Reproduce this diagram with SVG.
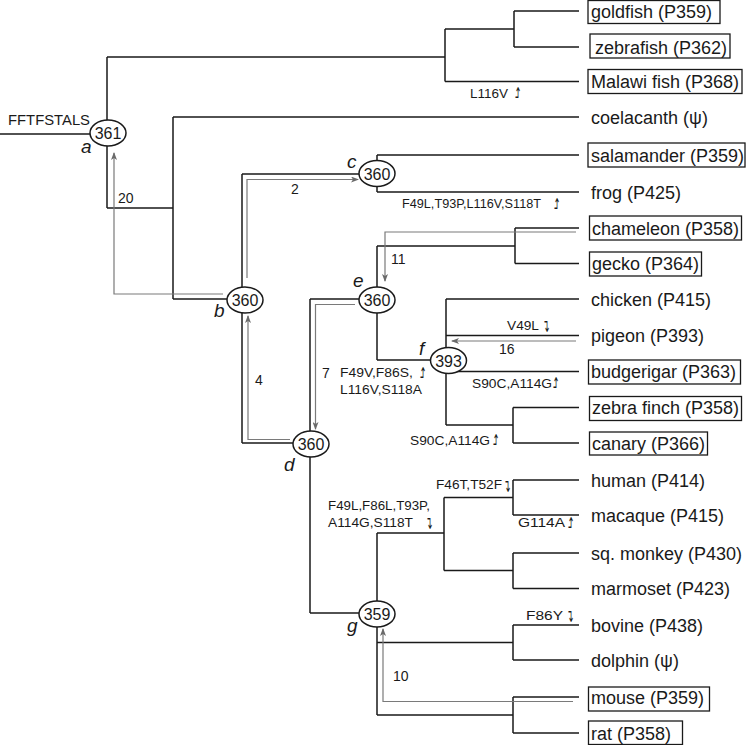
<svg xmlns="http://www.w3.org/2000/svg" width="750" height="745" viewBox="0 0 750 745">
<defs>
<style>
.br{fill:none;stroke:#1a1a1a;stroke-width:1.5}
.gr{fill:none;stroke:#7a7a7a;stroke-width:1.2}
.nd{fill:#fff;stroke:#1a1a1a;stroke-width:1.5}
.nt{font-family:"Liberation Sans",Arial,sans-serif;font-size:16px;fill:#1a1a1a;text-anchor:middle}
.lt{font-family:"Liberation Sans",Arial,sans-serif;font-size:19px;font-style:italic;fill:#1a1a1a}
.sp{font-family:"Liberation Sans",Arial,sans-serif;font-size:18px;fill:#1a1a1a}
.bx{fill:none;stroke:#1a1a1a;stroke-width:1.3}
.mu{font-family:"Liberation Sans",Arial,sans-serif;font-size:12.5px;fill:#1a1a1a}
.ar{font-family:"DejaVu Sans",sans-serif;font-size:18px;fill:#1a1a1a}
.cn{font-family:"Liberation Sans",Arial,sans-serif;font-size:14px;fill:#1a1a1a}
</style>
<marker id="ah" viewBox="0 0 8 6" refX="7" refY="3" markerWidth="8" markerHeight="6" markerUnits="userSpaceOnUse" orient="auto">
<path d="M0,0 L8,3 L0,6 L2,3 z" fill="#6a6a6a"/>
</marker>
</defs>
<rect width="750" height="745" fill="#fff"/>

<g id="connectors">
<path class="br" d="M0,134 H100 M107,57 V208 M107,57 H445 M445,29 V81.5 M445,29 H514 M514,11 V47 M514,11 H579 M514,47 H579 M445,81.5 H579"/>
<path class="br" d="M107,208 H173 M173,117 V299 M173,117 H579 M173,299 H235"/>
<path class="br" d="M242,174 V443 M242,174 H365 M242,443 H300"/>
<path class="br" d="M377,155 V192 M377,155 H579 M377,192 H579"/>
<path class="br" d="M310,299 V613 M310,299 H365 M310,613 H365"/>
<path class="br" d="M377,246 V360 M377,246 H515 M515,228 V263.5 M515,228 H579 M515,263.5 H579 M377,360 H440"/>
<path class="br" d="M446,299 V425 M446,299 H579 M446,335.5 H579 M446,371.5 H579 M446,425 H513 M513,407.5 V443 M513,407.5 H579 M513,443 H579"/>
<path class="br" d="M377,533 V715 M377,533 H444 M444,497.5 V570.5 M444,497.5 H513 M444,570.5 H513 M513,480 V515 M513,480 H579 M513,515 H579 M513,553 V588.5 M513,553 H579 M513,588.5 H579 M377,642.5 H513 M513,625 V660 M513,625 H579 M513,660 H579 M377,715 H513 M513,697 V733 M513,697 H579 M513,733 H579"/>
<path class="gr" marker-end="url(#ah)" d="M223,294 H114 V153"/>
<path class="gr" marker-end="url(#ah)" d="M247,278 V179.5 H358"/>
<path class="gr" marker-end="url(#ah)" d="M290,439.5 H248 V316"/>
<path class="gr" marker-end="url(#ah)" d="M355,304.5 H315.5 V429"/>
<path class="gr" marker-end="url(#ah)" d="M576,232 H385 V281"/>
<path class="gr" marker-end="url(#ah)" d="M576,341 H452"/>
<path class="gr" marker-end="url(#ah)" d="M573,701.5 H383 V629"/>
<text class="cn" x="118" y="203">20</text>
<text class="cn" x="291" y="194">2</text>
<text class="cn" x="255" y="385">4</text>
<text class="cn" x="322" y="378">7</text>
<text class="cn" x="391" y="264">11</text>
<text class="cn" x="499" y="354">16</text>
<text class="cn" x="393" y="681">10</text>
</g>

<g id="mutations">
<text class="mu" x="8" y="125" style="font-size:15px" textLength="82" lengthAdjust="spacingAndGlyphs">FFTFSTALS</text>
<text class="mu" x="470" y="98" textLength="38" lengthAdjust="spacingAndGlyphs">L116V</text>
<text class="mu" x="402" y="208" textLength="139" lengthAdjust="spacingAndGlyphs">F49L,T93P,L116V,S118T</text>
<text class="mu" x="507" y="329.5" textLength="32" lengthAdjust="spacingAndGlyphs">V49L</text>
<text class="mu" x="472" y="388" textLength="80" lengthAdjust="spacingAndGlyphs">S90C,A114G</text>
<text class="mu" x="410" y="445" textLength="80" lengthAdjust="spacingAndGlyphs">S90C,A114G</text>
<text class="mu" x="340" y="377" textLength="73" lengthAdjust="spacingAndGlyphs">F49V,F86S,</text>
<text class="mu" x="340" y="394" textLength="82" lengthAdjust="spacingAndGlyphs">L116V,S118A</text>
<text class="mu" x="436" y="489" textLength="66" lengthAdjust="spacingAndGlyphs">F46T,T52F</text>
<text class="mu" x="328" y="510" textLength="102" lengthAdjust="spacingAndGlyphs">F49L,F86L,T93P,</text>
<text class="mu" x="328" y="527" textLength="85" lengthAdjust="spacingAndGlyphs">A114G,S118T</text>
<text class="mu" x="518" y="527" textLength="47" lengthAdjust="spacingAndGlyphs">G114A</text>
<text class="mu" x="526" y="620" textLength="37" lengthAdjust="spacingAndGlyphs">F86Y</text>
<!-- hooked arrows: down = ↴, up = vertically flipped ↴ -->
<text class="ar" transform="translate(513.5,93) scale(1,-1)" y="6" textLength="7" lengthAdjust="spacingAndGlyphs">↴</text>
<text class="ar" transform="translate(552.5,204) scale(1,-1)" y="6" textLength="7" lengthAdjust="spacingAndGlyphs">↴</text>
<text class="ar" transform="translate(551.5,383) scale(1,-1)" y="6" textLength="7" lengthAdjust="spacingAndGlyphs">↴</text>
<text class="ar" transform="translate(491.5,440) scale(1,-1)" y="6" textLength="7" lengthAdjust="spacingAndGlyphs">↴</text>
<text class="ar" transform="translate(418.5,373) scale(1,-1)" y="6" textLength="7" lengthAdjust="spacingAndGlyphs">↴</text>
<text class="ar" transform="translate(566.5,523) scale(1,-1)" y="6" textLength="7" lengthAdjust="spacingAndGlyphs">↴</text>
<text class="ar" x="542.5" y="332" textLength="7" lengthAdjust="spacingAndGlyphs">↴</text>
<text class="ar" x="503.5" y="492" textLength="7" lengthAdjust="spacingAndGlyphs">↴</text>
<text class="ar" x="425.5" y="529" textLength="7" lengthAdjust="spacingAndGlyphs">↴</text>
<text class="ar" x="566.5" y="622" textLength="7" lengthAdjust="spacingAndGlyphs">↴</text>
</g>

<g id="node-a"><ellipse class="nd" cx="108" cy="133" rx="18" ry="13"/><text class="nt" x="108" y="139">361</text><text class="lt" x="81" y="153">a</text></g>
<g id="node-b"><ellipse class="nd" cx="245" cy="300" rx="18" ry="13"/><text class="nt" x="245" y="306">360</text><text class="lt" x="214" y="317">b</text></g>
<g id="node-c"><ellipse class="nd" cx="377" cy="173.5" rx="18" ry="13"/><text class="nt" x="377" y="179.5">360</text><text class="lt" x="347" y="168">c</text></g>
<g id="node-d"><ellipse class="nd" cx="311" cy="444" rx="18" ry="13"/><text class="nt" x="311" y="450">360</text><text class="lt" x="284" y="471">d</text></g>
<g id="node-e"><ellipse class="nd" cx="377" cy="300" rx="18" ry="13"/><text class="nt" x="377" y="306">360</text><text class="lt" x="353" y="287">e</text></g>
<g id="node-f"><ellipse class="nd" cx="448.5" cy="360.5" rx="18" ry="13"/><text class="nt" x="448.5" y="366.5">393</text><text class="lt" x="419" y="355">f</text></g>
<g id="node-g"><ellipse class="nd" cx="377" cy="614" rx="18" ry="13"/><text class="nt" x="377" y="620">359</text><text class="lt" x="347" y="632">g</text></g>

<g id="leaf-goldfish"><rect class="bx" x="588" y="0.5" width="132" height="23"/><text class="sp" x="591" y="17.5">goldfish (P359)</text></g>
<g id="leaf-zebrafish"><rect class="bx" x="590" y="34" width="140" height="24"/><text class="sp" x="595" y="53.5">zebrafish (P362)</text></g>
<g id="leaf-malawi"><rect class="bx" x="588" y="69.5" width="154" height="24"/><text class="sp" x="591" y="88">Malawi fish (P368)</text></g>
<g id="leaf-coelacanth"><text class="sp" x="591" y="123.5">coelacanth (ψ)</text></g>
<g id="leaf-salamander"><rect class="bx" x="588" y="143" width="157" height="24"/><text class="sp" x="591" y="161.5">salamander (P359)</text></g>
<g id="leaf-frog"><text class="sp" x="591" y="198.5">frog (P425)</text></g>
<g id="leaf-chameleon"><rect class="bx" x="589.5" y="216" width="152" height="24"/><text class="sp" x="592" y="234.5">chameleon (P358)</text></g>
<g id="leaf-gecko"><rect class="bx" x="589.5" y="252" width="112" height="24"/><text class="sp" x="592" y="270">gecko (P364)</text></g>
<g id="leaf-chicken"><text class="sp" x="591" y="305.5">chicken (P415)</text></g>
<g id="leaf-pigeon"><text class="sp" x="591" y="342">pigeon (P393)</text></g>
<g id="leaf-budgerigar"><rect class="bx" x="588.5" y="360" width="152" height="24"/><text class="sp" x="591" y="378">budgerigar (P363)</text></g>
<g id="leaf-zebrafinch"><rect class="bx" x="589.5" y="396.5" width="152" height="24"/><text class="sp" x="592" y="414">zebra finch (P358)</text></g>
<g id="leaf-canary"><rect class="bx" x="589.5" y="432" width="118" height="23"/><text class="sp" x="592" y="449.5">canary (P366)</text></g>
<g id="leaf-human"><text class="sp" x="591" y="486.5">human (P414)</text></g>
<g id="leaf-macaque"><text class="sp" x="591" y="521.5">macaque (P415)</text></g>
<g id="leaf-sqmonkey"><text class="sp" x="591" y="559.5">sq. monkey (P430)</text></g>
<g id="leaf-marmoset"><text class="sp" x="591" y="595">marmoset (P423)</text></g>
<g id="leaf-bovine"><text class="sp" x="591" y="631.5">bovine (P438)</text></g>
<g id="leaf-dolphin"><text class="sp" x="591" y="666.5">dolphin (ψ)</text></g>
<g id="leaf-mouse"><rect class="bx" x="588.5" y="687" width="121" height="24"/><text class="sp" x="591" y="703.5">mouse (P359)</text></g>
<g id="leaf-rat"><rect class="bx" x="588.5" y="721" width="94" height="23.5"/><text class="sp" x="591" y="739.5">rat (P358)</text></g>
</svg>
